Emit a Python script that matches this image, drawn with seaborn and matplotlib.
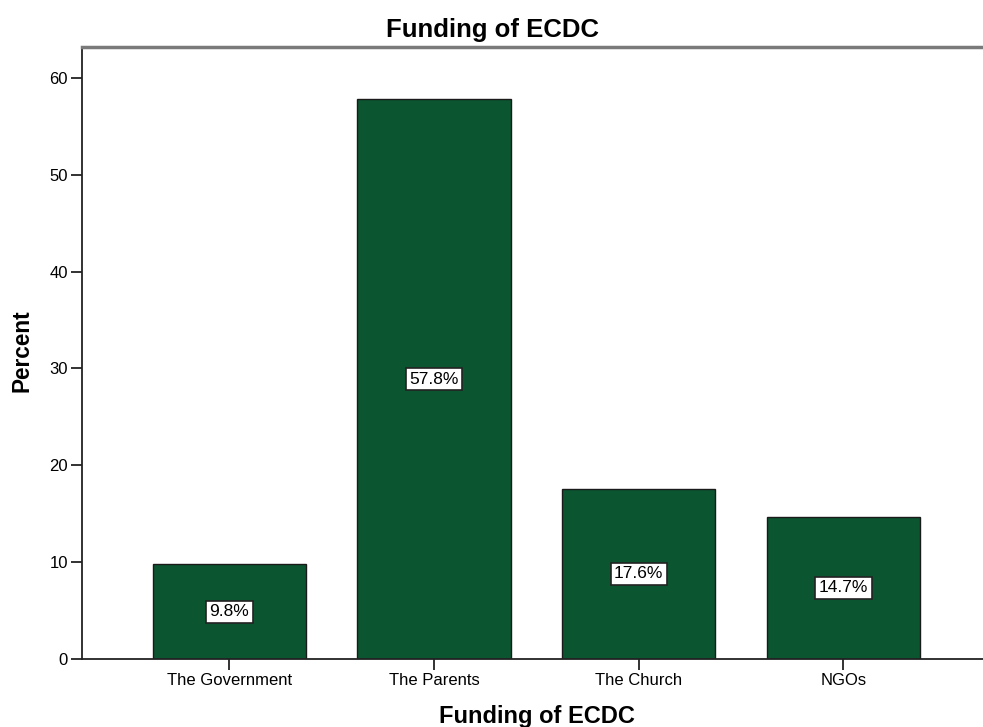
import matplotlib
matplotlib.use("Agg")
import matplotlib.pyplot as plt
import seaborn as sns
import pandas as pd

categories = ["The Government", "The Parents", "The Church", "NGOs"]
percents = [9.8, 57.8, 17.6, 14.7]
yticks = [0, 10, 20, 30, 40, 50, 60]

sns.set_style("white")
plt.rcParams["font.family"] = ["Liberation Sans", "DejaVu Sans"]
plt.rcParams["text.color"] = "black"

df = pd.DataFrame({"cat": categories, "pct": percents})

W, H = 983, 727
fig = plt.figure(figsize=(9.83, 7.27), dpi=100)
ax = fig.add_axes([82/W, 68/H, 1 - 82/W + 0.01, (659-47)/H])

sns.barplot(data=df, x="cat", y="pct", color="#0b5530", saturation=1,
            width=0.75, edgecolor="#1a1a1a", linewidth=1.0, ax=ax)

for p, v in zip(ax.patches, percents):
    ax.text(p.get_x() + p.get_width()/2, v/2, f"{v}%", ha="center", va="center",
            fontsize=12.5, color="black",
            bbox=dict(boxstyle="square,pad=0.2", facecolor="white", edgecolor="#222222", linewidth=1.2))

ax.set_ylim(0, 63.2)
ax.set_xlim(-0.72, 3.73)
ax.set_yticks(yticks)
ax.tick_params(axis="both", which="both", direction="out", length=8, width=1.3,
               colors="#222222", labelsize=12, left=True, bottom=True, pad=2)
for lab in ax.get_xticklabels() + ax.get_yticklabels():
    lab.set_color("black")

for s in ["left", "bottom"]:
    ax.spines[s].set_color("#222222")
    ax.spines[s].set_linewidth(1.3)
ax.spines["top"].set_color("#7a7a7a")
ax.spines["top"].set_linewidth(2.5)
ax.spines["right"].set_visible(False)

ax.set_xlabel("")
ax.set_ylabel("")
fig.text(493/W, 1 - 37/H, "Funding of ECDC", ha="center", va="baseline",
         fontsize=18.5, fontweight="bold", color="black")
fig.text(537/W, 1 - 723/H, "Funding of ECDC", ha="center", va="baseline",
         fontsize=17, fontweight="bold", color="black")
fig.text(22/W, 1 - 351/H, "Percent", ha="center", va="center", rotation=90,
         fontsize=16.3, fontweight="bold", color="black")

fig.savefig("out.png", dpi=100)
